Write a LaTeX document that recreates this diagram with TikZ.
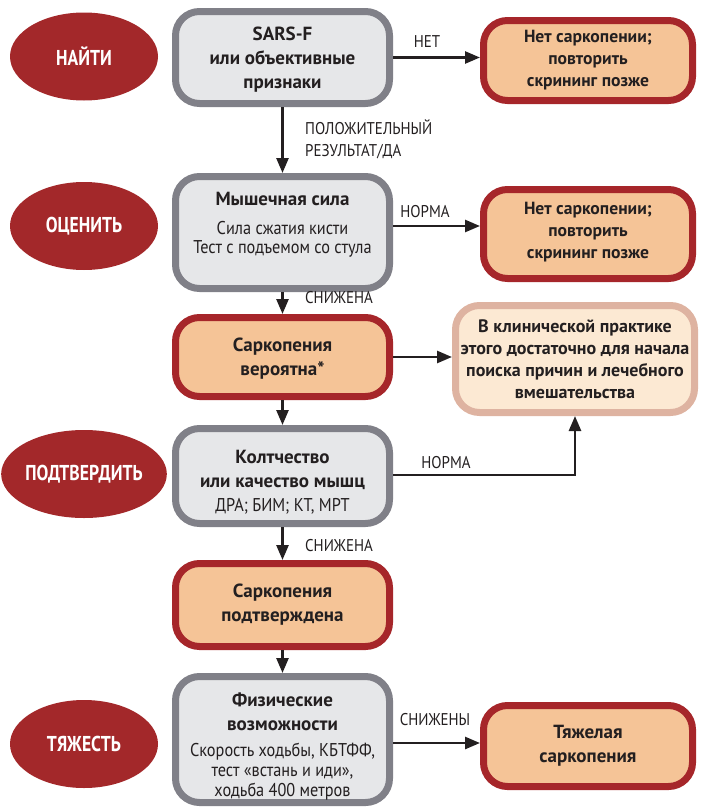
\documentclass[tikz,border=0pt]{standalone}
\usepackage{fontspec}
\setmainfont{PT Sans}
\newfontfamily\condfont{PT Sans}[FakeStretch=0.82]
\newfontfamily\semicond{PT Sans}[FakeStretch=0.88]
\usetikzlibrary{arrows.meta,shapes.geometric}
\definecolor{stagered}{HTML}{A3282A}
\definecolor{boxred}{HTML}{A6262A}
\definecolor{fillorange}{HTML}{F5C497}
\definecolor{boxgray}{HTML}{808088}
\definecolor{fillgray}{HTML}{E6E7E9}
\definecolor{boxpink}{HTML}{DEB3A1}
\definecolor{fillcream}{HTML}{FCE9D3}
\definecolor{txt}{HTML}{231F20}
\tikzset{
  basebox/.style={rounded corners=24pt, line width=7pt, inner sep=0pt, align=center, text=txt,
    font=\bfseries\fontsize{19}{24}\selectfont},
  graybox/.style={basebox, draw=boxgray, fill=fillgray},
  redbox/.style={basebox, draw=boxred, fill=fillorange},
  pinkbox/.style={basebox, draw=boxpink, fill=fillcream, font=\bfseries\fontsize{18}{22}\selectfont},
  stage/.style={ellipse, fill=stagered, text=white, minimum width=148pt, minimum height=88pt,
    inner sep=0pt, font=\condfont\bfseries\fontsize{21.5}{22}\selectfont},
  flow/.style={line width=2.6pt, draw=txt, -{Triangle[length=15pt,width=12pt]}},
  lbl/.style={text=txt, font=\semicond\fontsize{17}{22}\selectfont, inner sep=0pt, align=left},
  rfont/.style={font=\bfseries\fontsize{17.6}{22}\selectfont}
}
\newcommand{\sub}[1]{{\semicond\mdseries\fontsize{18.5}{19}\selectfont #1}}
\begin{document}
\begin{tikzpicture}[x=1pt,y=-1pt]
\useasboundingbox (0,0) rectangle (702,811);
% stages
\node[stage] (find) at (84,56.5) {НАЙТИ};
\node[stage] (assess) at (84,226) {ОЦЕНИТЬ};
\node[stage] (confirm) at (84,474) {ПОДТВЕРДИТЬ};
\node[stage] (severity) at (84,744) {ТЯЖЕСТЬ};
% main column
\node[graybox, minimum width=214pt, minimum height=92pt] (sars) at (282.5,57.5)
  {\rule{0pt}{18pt}SARS-F\\или объективные\\признаки};
\node[graybox, minimum width=214pt, minimum height=112pt] (musc) at (282.5,232.5)
  {Мышечная сила\\[5pt]\sub{Сила сжатия кисти}\\[-5pt]\sub{Тест с подъемом со стула}\rule[-19pt]{0pt}{0pt}};
\node[redbox, minimum width=214pt, minimum height=79pt] (prob) at (282.5,357)
  {\rule{0pt}{17pt}Саркопения\\вероятна*};
\node[graybox, minimum width=214pt, minimum height=95pt] (qty) at (282.5,476)
  {\rule{0pt}{26pt}Колтчество\\или качество мышц\\\sub{ДРА; БИМ; КТ, МРТ}};
\node[redbox, minimum width=214pt, minimum height=83pt] (conf) at (282.5,605)
  {Саркопения\\подтверждена};
\node[graybox, minimum width=214pt, minimum height=126pt] (phys) at (282.5,739.5)
  {\rule{0pt}{27pt}Физические\\возможности\\[2pt]\sub{Скорость ходьбы, КБТФФ,}\\[-4pt]\sub{тест «встань и иди»,}\\[-4pt]\sub{ходьба 400 метров}};
% right column
\node[redbox, rfont, minimum width=209pt, minimum height=80pt] (no1) at (588,60.5)
  {Нет саркопении;\\повторить\\скрининг позже};
\node[redbox, rfont, minimum width=209pt, minimum height=89pt] (no2) at (588,234)
  {Нет саркопении;\\повторить\\скрининг позже\rule[-8pt]{0pt}{0pt}};
\node[pinkbox, minimum width=239pt, minimum height=107pt] (clin) at (575,359)
  {В клинической практике\\этого достаточно для начала\\поиска причин и лечебного\\вмешательства};
\node[redbox, minimum width=209pt, minimum height=81pt] (sev) at (588,746)
  {Тяжелая\\саркопения};
% connectors
\draw[flow] (sars.east) -- (no1.west |- sars.east);
\node[lbl] (l1) at (427,42) {НЕТ};
\draw[flow] (sars.south) -- (musc.north);
\node[lbl, anchor=west] (l2) at (305,139) {ПОЛОЖИТЕЛЬНЫЙ\\РЕЗУЛЬТАТ/ДА};
\draw[flow] (musc.east |- 0,226) -- (no2.west |- 0,226);
\node[lbl] (l3) at (425,212) {НОРМА};
\draw[flow] (musc.south) -- (prob.north);
\node[lbl, anchor=west] (l4) at (305,298) {СНИЖЕНА};
\draw[flow] (prob.east) -- (clin.west |- prob.east);
\draw[flow] (prob.south) -- (qty.north);
\coordinate (bend) at (575,475);
\draw[flow] (qty.east |- bend) -- (bend) -- (clin.south);
\node[lbl] (l5) at (446,463) {НОРМА};
\draw[flow] (qty.south) -- (conf.north);
\node[lbl, anchor=west] (l6) at (305,546) {СНИЖЕНА};
\draw[flow] (conf.south) -- (phys.north);
\draw[flow] (phys.east |- 0,743) -- (sev.west |- 0,743);
\node[lbl] (l7) at (435,720) {СНИЖЕНЫ};
\end{tikzpicture}
\end{document}
